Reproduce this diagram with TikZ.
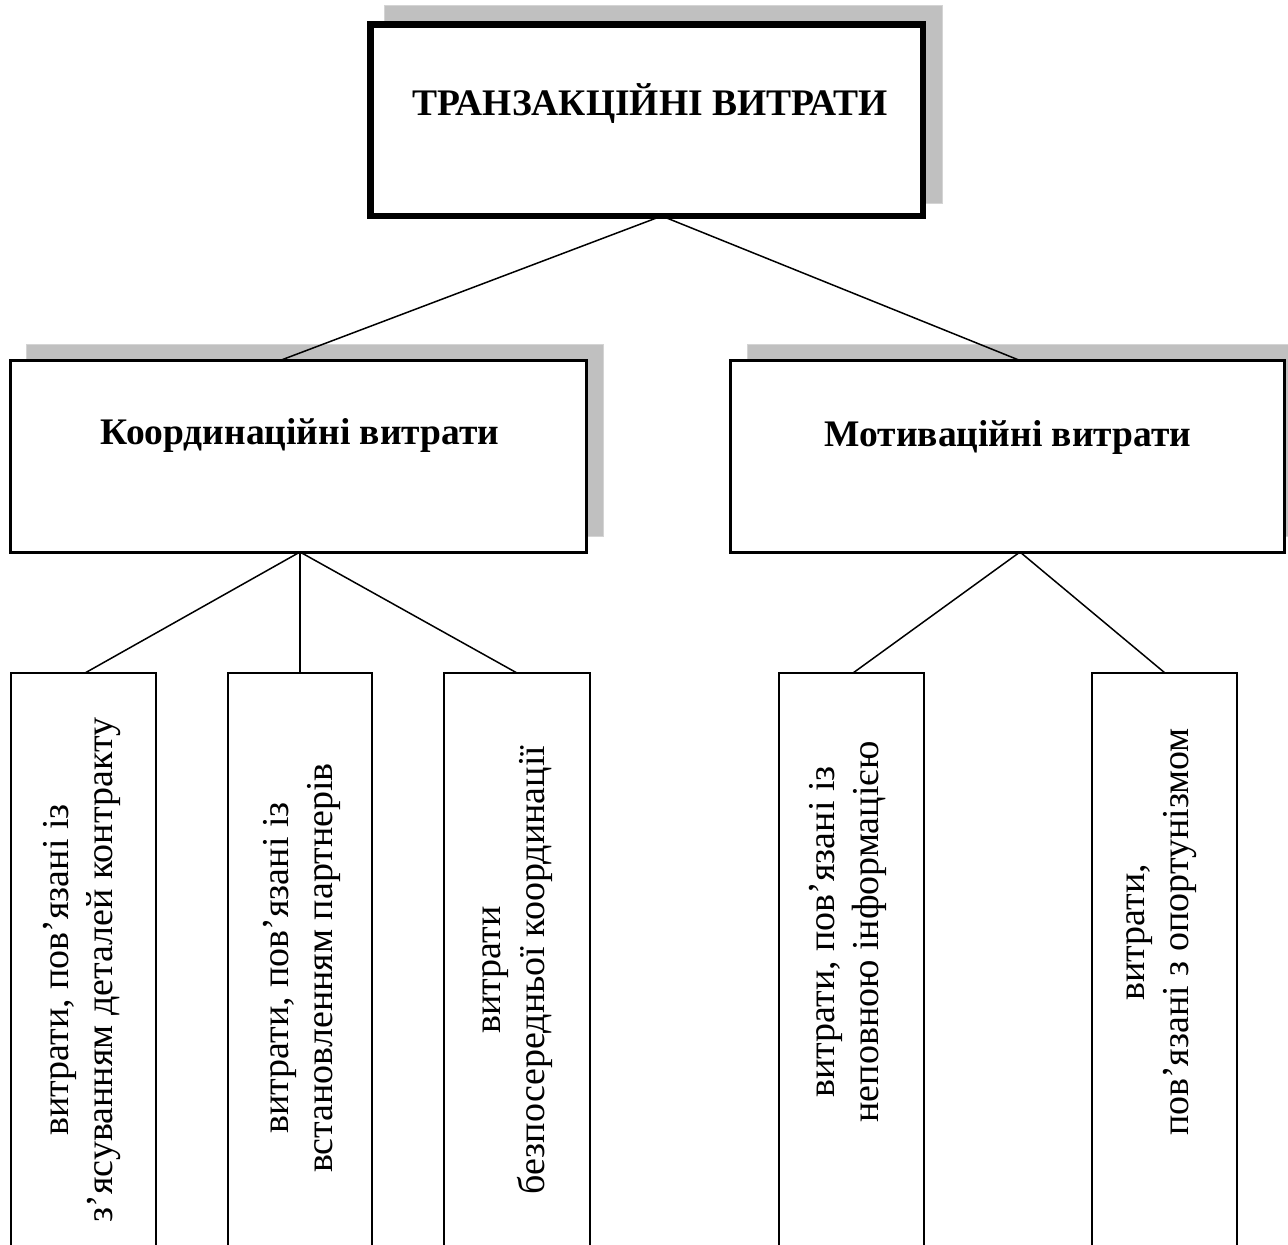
\documentclass[tikz,border=0pt]{standalone}
\usepackage{fontspec}
\setmainfont{Liberation Serif}
\definecolor{shadowgray}{RGB}{192,192,192}
\definecolor{shadowedge}{RGB}{212,212,212}
\begin{document}
\begin{tikzpicture}[x=1pt,y=-1pt,
  shadowfill/.style={fill=shadowgray,draw=shadowedge,line width=1pt},
  topbox/.style={draw=black,fill=white,line width=6.5pt,rectangle,inner sep=0pt,outer sep=0pt,minimum width=552.5pt,minimum height=191.5pt},
  midbox/.style={draw=black,fill=white,line width=3pt,rectangle,inner sep=0pt,outer sep=0pt,minimum width=#1,minimum height=191.5pt},
  leafbox/.style={draw=black,fill=white,line width=2.5pt,rectangle,inner sep=0pt,outer sep=0pt,minimum width=#1,minimum height=587pt},
  leaftext/.style={rotate=90,align=center,inner sep=0pt,font=\fontsize{38}{44}\selectfont},
  headtext/.style={inner sep=0pt,font=\fontsize{37.5}{44}\selectfont\bfseries},
  link/.style={line width=1.5pt}]
\useasboundingbox (0,0) rectangle (1288,1245);
\fill[white] (0,0) rectangle (1288,1245);
\clip (0,0) rectangle (1288,1245);

% shadows
\filldraw[shadowfill] (384,5) rectangle (942,203);
\filldraw[shadowfill] (26,344) rectangle (603,536);
\filldraw[shadowfill] (747,344) rectangle (1300,536);

% boxes
\node[topbox] (top) at (646.75,120.25) {};
\node[midbox=576pt] (cm) at (298.5,456.25) {};
\node[midbox=553.5pt] (mm) at (1007.25,456.25) {};

\node[leafbox=145pt] (l1) at (83.5,966.5) {};
\node[leafbox=144pt] (l2) at (300,966.5) {};
\node[leafbox=146pt] (l3) at (517,966.5) {};
\node[leafbox=145pt] (l4) at (851.5,966.5) {};
\node[leafbox=145pt] (l5) at (1164.5,966.5) {};

% texts
\node[headtext] (ttop) at (650,104) {ТРАНЗАКЦІЙНІ ВИТРАТИ};
\node[headtext] (tcm) at (300,435) {Координаційні витрати};
\node[headtext] (tmm) at (1008,437) {Мотиваційні витрати};

\node[leaftext] (t1) at (82,970) {витрати, пов’язані із\\з’ясуванням деталей контракту};
\node[leaftext] (t2) at (302,968) {витрати, пов’язані із\\встановленням партнерів};
\node[leaftext] (t3) at (518,970) {витрати\\безпосередньої координації};
\node[leaftext] (t4) at (848,932) {витрати, пов’язані із\\неповною інформацією};
\node[leaftext] (t5) at (1162,932) {витрати,\\пов’язані з опортунізмом};

% connectors
\draw[link] ([xshift=15pt]top.south) -- ([xshift=-18.5pt]cm.north);
\draw[link] ([xshift=15pt]top.south) -- ([xshift=12.75pt]mm.north);

\draw[link] ([xshift=1.5pt]cm.south) -- ([xshift=1.5pt]l1.north);
\draw[link] ([xshift=1.5pt]cm.south) -- (l2.north);
\draw[link] ([xshift=1.5pt]cm.south) -- (l3.north);

\draw[link] ([xshift=12.75pt]mm.south) -- ([xshift=1.5pt]l4.north);
\draw[link] ([xshift=12.75pt]mm.south) -- ([xshift=0.5pt]l5.north);
\end{tikzpicture}
\end{document}
